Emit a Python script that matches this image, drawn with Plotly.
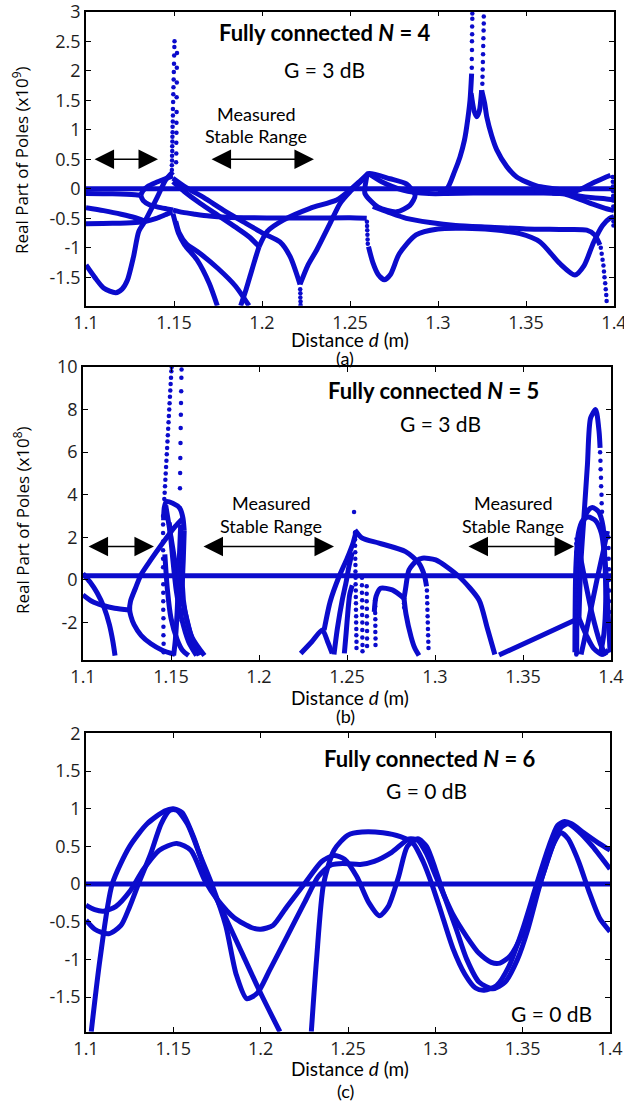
import plotly.graph_objects as go

BLUE = '#0b0bcc'
W, H = 624, 1104
XTICKS = [1.1, 1.15, 1.2, 1.25, 1.3, 1.35, 1.4]
XTICKTEXT = ['1.1', '1.15', '1.2', '1.25', '1.3', '1.35', '1.4']

# ---------------- Panel (a): N = 4, G = 3 dB (x1e9) ----------------
A_YTICKS = [3, 2.5, 2, 1.5, 1, 0.5, 0, -0.5, -1, -1.5]
A_YTICKTEXT = ['3', '2.5', '2', '1.5', '1', '0.5', '0', '-0.5', '-1', '-1.5']

A_ZERO_X = [1.10, 1.40]
A_ZERO_Y = [0.0, 0.0]
A1_X = [1.100, 1.105, 1.110, 1.1169, 1.1205, 1.1235, 1.127, 1.130, 1.1335, 1.137, 1.1405, 1.1453, 1.1494]
A1_Y = [-1.29, -1.50, -1.68, -1.76, -1.70, -1.55, -1.15, -0.72, -0.55, -0.35, -0.14, 0.15, 0.29]
A2_X = [1.100, 1.115, 1.128, 1.131]
A2_Y = [-0.08, -0.085, -0.10, -0.11]
A2U_X = [1.131, 1.1325, 1.135, 1.140, 1.145, 1.1494]
A2U_Y = [-0.11, -0.03, 0.04, 0.11, 0.17, 0.22]
A2L_X = [1.131, 1.1325, 1.136, 1.141, 1.146, 1.1494]
A2L_Y = [-0.11, -0.20, -0.27, -0.31, -0.34, -0.36]
A3_X = [1.100, 1.110, 1.120, 1.128, 1.1335]
A3_Y = [-0.32, -0.37, -0.43, -0.49, -0.55]
A4_X = [1.100, 1.115, 1.128, 1.134, 1.140, 1.145, 1.149]
A4_Y = [-0.59, -0.585, -0.57, -0.55, -0.50, -0.44, -0.39]
AB1_X = [1.1494, 1.151, 1.1525, 1.156, 1.163, 1.170, 1.1746]
AB1_Y = [-0.42, -0.60, -0.75, -0.95, -1.20, -1.60, -1.98]
AB2_X = [1.151, 1.153, 1.157, 1.165, 1.175, 1.185, 1.1926]
AB2_Y = [-0.55, -0.75, -0.93, -1.10, -1.35, -1.65, -1.98]
AB3_X = [1.1494, 1.156, 1.165, 1.175, 1.185, 1.193, 1.1983]
AB3_Y = [0.12, -0.05, -0.25, -0.45, -0.65, -0.82, -0.98]
AB6_X = [1.1494, 1.157, 1.167, 1.178, 1.190, 1.2011, 1.2102, 1.216, 1.2216]
AB6_Y = [0.18, 0.02, -0.15, -0.36, -0.57, -0.76, -0.90, -1.15, -1.62]
AB4_X = [1.1494, 1.155, 1.162, 1.170, 1.180, 1.195, 1.210, 1.230, 1.250, 1.2595]
AB4_Y = [-0.36, -0.40, -0.43, -0.46, -0.48, -0.49, -0.495, -0.495, -0.49, -0.50]
AB4B_X = [1.2605, 1.263, 1.266, 1.2695, 1.273, 1.278, 1.2875, 1.300, 1.315, 1.330, 1.3466, 1.358, 1.369, 1.3778, 1.383, 1.3885, 1.3935, 1.3975, 1.400]
AB4B_Y = [-0.98, -1.25, -1.45, -1.54, -1.45, -1.10, -0.78, -0.68, -0.67, -0.69, -0.76, -0.90, -1.26, -1.46, -1.30, -0.90, -0.62, -0.50, -0.47]
AV_X = [1.1879, 1.191, 1.194, 1.1965, 1.1983]
AV_Y = [-1.98, -1.70, -1.40, -1.15, -0.98]
AP1_X = [1.1983, 1.203, 1.2121, 1.2273, 1.2424, 1.250, 1.256, 1.2604]
AP1_Y = [-0.98, -0.72, -0.53, -0.33, -0.19, -0.02, 0.14, 0.26]
AP2_X = [1.2216, 1.226, 1.231, 1.2386, 1.2443, 1.250, 1.256, 1.2604]
AP2_Y = [-1.62, -1.30, -1.04, -0.59, -0.25, -0.05, 0.12, 0.26]
ALOOP_X = [1.2604, 1.2727, 1.2822, 1.287, 1.284, 1.2765, 1.266, 1.2585, 1.2590, 1.2604]
ALOOP_Y = [0.26, 0.17, 0.08, -0.11, -0.28, -0.39, -0.31, -0.08, 0.12, 0.26]
AZ_X = [1.2604, 1.268, 1.280, 1.295, 1.305, 1.320, 1.340, 1.360, 1.372]
AZ_Y = [0.26, 0.12, -0.02, -0.08, -0.08, -0.07, -0.07, -0.07, -0.08]
AM_X = [1.263, 1.272, 1.282, 1.2955, 1.310, 1.330, 1.350, 1.370, 1.3845, 1.389, 1.392]
AM_Y = [-0.30, -0.40, -0.50, -0.57, -0.62, -0.65, -0.68, -0.69, -0.70, -0.78, -0.95]
AS1_X = [1.300, 1.305, 1.3095, 1.3125, 1.315, 1.3163, 1.3182, 1.3191]
AS1_Y = [-0.03, 0.0, 0.30, 0.54, 0.82, 1.05, 1.50, 1.95]
AS2_X = [1.3188, 1.3205, 1.322, 1.3235, 1.3248]
AS2_Y = [1.62, 1.32, 1.22, 1.32, 1.67]
AS3_X = [1.3248, 1.3265, 1.3277, 1.3305, 1.3334, 1.339, 1.3447, 1.356, 1.372]
AS3_Y = [1.67, 1.45, 1.22, 0.90, 0.66, 0.38, 0.20, 0.05, -0.02]
AR1_X = [1.355, 1.365, 1.372, 1.380, 1.388, 1.394, 1.398]
AR1_Y = [-0.04, -0.06, -0.08, -0.02, 0.10, 0.18, 0.23]
AR2_X = [1.360, 1.372, 1.380, 1.388, 1.395, 1.400]
AR2_Y = [-0.06, -0.08, -0.12, -0.15, -0.17, -0.19]
AR3_X = [1.365, 1.372, 1.380, 1.388, 1.395, 1.400]
AR3_Y = [-0.07, -0.09, -0.17, -0.26, -0.33, -0.37]

A_SPIKE1_X = [1.1488, 1.1488, 1.1489, 1.1489, 1.149, 1.149, 1.1491, 1.1491, 1.1492, 1.1492, 1.1493, 1.1494,
              1.1494, 1.1495, 1.1496, 1.1497, 1.1498, 1.1499, 1.1500, 1.1501, 1.1502, 1.1503]
A_SPIKE1_Y = [0.32, 0.40, 0.48, 0.56, 0.64, 0.72, 0.80, 0.88, 0.96, 1.05, 1.14, 1.24,
              1.35, 1.47, 1.60, 1.72, 1.85, 1.98, 2.12, 2.26, 2.40, 2.50]
A_SPIKE2_X = [1.1512, 1.1513, 1.1513, 1.1514, 1.1514, 1.1515, 1.1515, 1.1516, 1.1516, 1.1517]
A_SPIKE2_Y = [0.45, 0.60, 0.78, 0.95, 1.12, 1.30, 1.55, 1.80, 2.05, 2.30]
A_CUSP_X = [1.2217, 1.2218, 1.2218, 1.2219, 1.2219]
A_CUSP_Y = [-1.70, -1.77, -1.84, -1.91, -1.97]
A_DROP1_X = [1.2596, 1.2597, 1.2598, 1.2599, 1.2600, 1.2601]
A_DROP1_Y = [-0.56, -0.63, -0.70, -0.78, -0.86, -0.93]
A_DROP2_X = [1.3925, 1.393, 1.3935, 1.394, 1.3943, 1.3946, 1.395, 1.3953, 1.3956, 1.3958]
A_DROP2_Y = [-1.00, -1.10, -1.20, -1.30, -1.40, -1.50, -1.60, -1.70, -1.80, -1.90]
A_PK1_X = [1.3192, 1.3192, 1.3193, 1.3193, 1.3194, 1.3194, 1.3195, 1.3195]
A_PK1_Y = [2.05, 2.20, 2.35, 2.50, 2.62, 2.75, 2.88, 2.97]
A_PK2_X = [1.3252, 1.3253, 1.3254, 1.3255, 1.3256, 1.3257, 1.3258, 1.3259, 1.3260, 1.3260]
A_PK2_Y = [1.78, 1.90, 2.02, 2.15, 2.28, 2.42, 2.55, 2.68, 2.80, 2.92]
A_EDGE_X = [1.3992, 1.3993, 1.3994, 1.3995, 1.3995, 1.3996, 1.3996, 1.3997, 1.3997]
A_EDGE_Y = [0.20, 0.12, 0.04, -0.04, -0.12, -0.20, -0.30, -0.55, -0.62]

A_CURVES = [(A_ZERO_X, A_ZERO_Y), (A1_X, A1_Y), (A2_X, A2_Y), (A2U_X, A2U_Y), (A2L_X, A2L_Y),
            (A3_X, A3_Y), (A4_X, A4_Y), (AB1_X, AB1_Y), (AB2_X, AB2_Y), (AB3_X, AB3_Y),
            (AB6_X, AB6_Y), (AB4_X, AB4_Y), (AB4B_X, AB4B_Y), (AV_X, AV_Y), (AP1_X, AP1_Y),
            (AP2_X, AP2_Y), (ALOOP_X, ALOOP_Y), (AZ_X, AZ_Y), (AM_X, AM_Y), (AS1_X, AS1_Y),
            (AS2_X, AS2_Y), (AS3_X, AS3_Y), (AR1_X, AR1_Y), (AR2_X, AR2_Y), (AR3_X, AR3_Y)]
A_DOTS = [(A_SPIKE1_X, A_SPIKE1_Y), (A_SPIKE2_X, A_SPIKE2_Y), (A_CUSP_X, A_CUSP_Y),
          (A_DROP1_X, A_DROP1_Y), (A_DROP2_X, A_DROP2_Y), (A_PK1_X, A_PK1_Y),
          (A_PK2_X, A_PK2_Y), (A_EDGE_X, A_EDGE_Y)]

# ---------------- Panel (b): N = 5, G = 3 dB (x1e8) ----------------
B_YTICKS = [10, 8, 6, 4, 2, 0, -2]
B_YTICKTEXT = ['10', '8', '6', '4', '2', '0', '-2']

B_ZERO_X = [1.10, 1.40]
B_ZERO_Y = [0.2, 0.2]
B1_X = [1.100, 1.104, 1.108, 1.112, 1.115, 1.117, 1.1182]
B1_Y = [0.30, -0.10, -0.60, -1.30, -2.10, -2.90, -3.55]
B2_X = [1.100, 1.105, 1.1114, 1.118, 1.1265]
B2_Y = [-0.70, -1.00, -1.20, -1.33, -1.41]
B3_X = [1.1568, 1.1523, 1.1450, 1.1386, 1.1330, 1.1295, 1.1270, 1.1265, 1.1272, 1.1290, 1.1330, 1.1386, 1.1450, 1.1523]
B3_Y = [2.9, 2.5, 1.7, 0.95, 0.25, -0.45, -1.0, -1.41, -1.7, -2.1, -2.6, -3.0, -3.3, -3.5]
B4_X = [1.1458, 1.1462, 1.1473, 1.151, 1.155, 1.1568, 1.1575]
B4_Y = [2.80, 3.40, 3.68, 3.60, 3.37, 2.90, 2.30]
BF1_X = [1.147, 1.150, 1.154, 1.158, 1.162, 1.166]
BF1_Y = [3.5, 2.0, 0.0, -1.5, -2.8, -3.55]
BF2_X = [1.149, 1.151, 1.153, 1.156, 1.160, 1.1645]
BF2_Y = [2.7, 1.0, -0.5, -1.8, -2.9, -3.55]
BF3_X = [1.1575, 1.157, 1.1565, 1.158, 1.162, 1.169]
BF3_Y = [2.3, 1.0, -0.3, -1.5, -2.7, -3.55]
BF4_X = [1.1555, 1.1545, 1.1535, 1.1525, 1.1515]
BF4_Y = [2.6, 0.5, -1.5, -2.8, -3.55]
BF5_X = [1.1465, 1.148, 1.150, 1.1535, 1.1565, 1.160]
BF5_Y = [1.2, -0.5, -1.8, -2.8, -3.3, -3.55]
BQ1_X = [1.2237, 1.230, 1.236, 1.239, 1.2416]
BQ1_Y = [-3.45, -2.90, -2.35, -2.90, -3.45]
BQ2_X = [1.237, 1.2405, 1.2455, 1.250, 1.2535, 1.2553]
BQ2_Y = [-2.35, -1.00, 0.16, 1.00, 1.75, 2.30]
BQ3_X = [1.2426, 1.2445, 1.2473, 1.2495, 1.2511, 1.253]
BQ3_Y = [-3.50, -2.30, -0.94, -0.10, 0.63, 1.30]
BQ4_X = [1.2485, 1.2495, 1.2505, 1.2515, 1.253]
BQ4_Y = [-3.45, -2.50, -1.50, -0.70, -0.25]
BQ5_X = [1.2655, 1.2665, 1.2691, 1.2757, 1.2824]
BQ5_Y = [-1.50, -0.78, -0.39, -0.47, -0.86]
BQ6_X = [1.2824, 1.2833, 1.2852, 1.2895, 1.2928, 1.3004, 1.3136, 1.325, 1.3295, 1.334]
BQ6_Y = [-0.86, -0.40, 0.47, 0.90, 1.02, 0.94, 0.16, -0.94, -2.20, -3.50]
BQ7_X = [1.2824, 1.2835, 1.2864, 1.2885, 1.2909]
BQ7_Y = [-0.86, -1.60, -2.67, -3.20, -3.55]
BQ8_X = [1.2545, 1.2587, 1.2682, 1.2833, 1.2909, 1.2940, 1.2952]
BQ8_Y = [2.35, 1.96, 1.73, 1.33, 0.78, 0.20, -0.30]
BR0_X = [1.3364, 1.3591, 1.3818]
BR0_Y = [-3.53, -2.67, -1.80]
BTALL_X = [1.3818, 1.3828, 1.3847, 1.3866, 1.3884, 1.3913, 1.3932, 1.3938]
BTALL_Y = [-1.80, 0.70, 3.06, 5.40, 7.60, 8.00, 6.98, 6.20]
BLA_X = [1.3805, 1.381, 1.383, 1.3865, 1.3894, 1.393, 1.3955, 1.3965, 1.397, 1.396, 1.394]
BLA_Y = [-3.5, 0.0, 2.3, 3.2, 3.4, 3.2, 2.5, 1.0, -1.0, -2.5, -3.5]
BLB_X = [1.3795, 1.380, 1.3815, 1.384, 1.3872, 1.391, 1.3945, 1.397, 1.3985, 1.3995]
BLB_Y = [-3.4, 0.5, 2.2, 2.8, 2.95, 2.8, 2.2, 0.5, -1.8, -3.4]
BX1_X = [1.3805, 1.384, 1.389, 1.394, 1.397]
BX1_Y = [2.0, 0.5, -1.5, -3.0, -3.55]
BX2_X = [1.383, 1.387, 1.392, 1.396, 1.398]
BX2_Y = [-3.5, -2.0, 0.0, 1.5, 2.3]
BX3_X = [1.3818, 1.386, 1.390, 1.395, 1.3985]
BX3_Y = [-1.8, -2.6, -3.2, -3.5, -3.3]

B_SPIKE1_X = [1.1462, 1.1464, 1.1466, 1.1468, 1.1470, 1.1472, 1.1474, 1.1476, 1.1478, 1.1480, 1.1482,
              1.1484, 1.1486, 1.1488, 1.1490, 1.1492, 1.1494, 1.1496, 1.1498, 1.1500, 1.1502, 1.1504]
B_SPIKE1_Y = [3.8, 4.1, 4.4, 4.7, 5.0, 5.3, 5.6, 5.9, 6.2, 6.5, 6.8,
              7.1, 7.4, 7.7, 8.0, 8.3, 8.6, 8.9, 9.2, 9.5, 9.8, 10.0]
B_SPIKE2_X = [1.1560, 1.1559, 1.1558, 1.1557, 1.1556, 1.1555, 1.1554, 1.1553, 1.1552, 1.1551, 1.1550, 1.1552, 1.1554]
B_SPIKE2_Y = [9.88, 9.49, 8.86, 8.31, 7.76, 7.14, 6.43, 5.73, 5.02, 4.31, 3.37, 1.33, 0.71]
B_COLL_X = [1.1455, 1.1455, 1.1455, 1.1455, 1.1455, 1.1455, 1.1455, 1.1455, 1.1456, 1.1456,
            1.1456, 1.1456, 1.1457, 1.1457, 1.1457, 1.1458, 1.1458]
B_COLL_Y = [3.0, 2.6, 2.2, 1.8, 1.4, 1.0, 0.6, 0.2, -0.2, -0.6, -1.0, -1.4, -1.8, -2.2, -2.6, -3.0, -3.4]
B_COLR_X = [1.1558, 1.1558, 1.1558, 1.1559, 1.1559, 1.1559, 1.1560, 1.1560, 1.1560]
B_COLR_Y = [1.3, 0.9, 0.5, 0.1, -0.3, -0.7, -1.1, -1.5, -1.9]
B_D1_X = [1.2545, 1.2546, 1.2546, 1.2547, 1.2547, 1.2548, 1.2548, 1.2549, 1.2549, 1.2550,
          1.2550, 1.2551, 1.2551, 1.2552, 1.2552, 1.2553, 1.2553, 1.2554, 1.2554, 1.2540]
B_D1_Y = [2.2, 1.9, 1.6, 1.3, 1.0, 0.7, 0.4, 0.1, -0.2, -0.5,
          -0.8, -1.1, -1.4, -1.7, -2.0, -2.3, -2.6, -2.9, -3.2, 3.19]
B_D2_X = [1.2585, 1.2585, 1.2585, 1.2586, 1.2586, 1.2586, 1.2587, 1.2587, 1.2587, 1.2588, 1.2588]
B_D2_Y = [0.1, -0.25, -0.6, -0.95, -1.3, -1.65, -2.0, -2.35, -2.7, -3.05, -3.35]
B_D3_X = [1.2612, 1.2612, 1.2612, 1.2613, 1.2613, 1.2613, 1.2614, 1.2614, 1.2614]
B_D3_Y = [-0.3, -0.65, -1.0, -1.35, -1.7, -2.05, -2.4, -2.75, -3.1]
B_D4_X = [1.2660, 1.2660, 1.2660, 1.2661, 1.2661, 1.2661, 1.2662, 1.2662]
B_D4_Y = [-0.95, -1.25, -1.55, -1.85, -2.15, -2.45, -2.75, -3.05]
B_D5_X = [1.2954, 1.2955, 1.2956, 1.2957, 1.2958, 1.2959, 1.2960, 1.2961, 1.2962, 1.2963]
B_D5_Y = [-0.5, -0.8, -1.1, -1.4, -1.7, -2.0, -2.3, -2.6, -2.9, -3.2]
B_D6_X = [1.2824, 1.2824, 1.2825]
B_D6_Y = [-0.90, -1.10, -1.30]
B_RCOL_X = [1.3803, 1.3803, 1.3803, 1.3803, 1.3803, 1.3803, 1.3803, 1.3803, 1.3803, 1.3803,
            1.3803, 1.3803, 1.3803, 1.3803]
B_RCOL_Y = [1.7, 1.3, 0.9, 0.5, 0.1, -0.3, -0.7, -1.1, -1.5, -1.9, -2.3, -2.7, -3.1, -3.5]
B_TALLD_X = [1.3938, 1.3940, 1.3941, 1.3943, 1.3944, 1.3946, 1.3947, 1.3949]
B_TALLD_Y = [6.0, 5.6, 5.2, 4.8, 4.4, 4.0, 3.6, 3.2]
B_EDGE_X = [1.3985, 1.3986, 1.3987, 1.3988, 1.3988, 1.3989, 1.3989, 1.3990]
B_EDGE_Y = [2.0, 1.5, 1.0, 0.5, 0.0, -0.5, -1.0, -1.5]

B_CURVES = [(B_ZERO_X, B_ZERO_Y), (B1_X, B1_Y), (B2_X, B2_Y), (B3_X, B3_Y), (B4_X, B4_Y),
            (BF1_X, BF1_Y), (BF2_X, BF2_Y), (BF3_X, BF3_Y), (BF4_X, BF4_Y), (BF5_X, BF5_Y),
            (BQ1_X, BQ1_Y), (BQ2_X, BQ2_Y), (BQ3_X, BQ3_Y), (BQ4_X, BQ4_Y), (BQ5_X, BQ5_Y),
            (BQ6_X, BQ6_Y), (BQ7_X, BQ7_Y), (BQ8_X, BQ8_Y), (BR0_X, BR0_Y), (BTALL_X, BTALL_Y),
            (BLA_X, BLA_Y), (BLB_X, BLB_Y), (BX1_X, BX1_Y), (BX2_X, BX2_Y), (BX3_X, BX3_Y)]
B_DOTS = [(B_SPIKE1_X, B_SPIKE1_Y), (B_SPIKE2_X, B_SPIKE2_Y), (B_COLL_X, B_COLL_Y),
          (B_COLR_X, B_COLR_Y), (B_D1_X, B_D1_Y), (B_D2_X, B_D2_Y), (B_D3_X, B_D3_Y),
          (B_D4_X, B_D4_Y), (B_D5_X, B_D5_Y), (B_D6_X, B_D6_Y), (B_RCOL_X, B_RCOL_Y),
          (B_TALLD_X, B_TALLD_Y), (B_EDGE_X, B_EDGE_Y)]

# ---------------- Panel (c): N = 6, G = 0 dB (x1e8) ----------------
C_YTICKS = [2, 1.5, 1, 0.5, 0, -0.5, -1, -1.5]
C_YTICKTEXT = ['2', '1.5', '1', '0.5', '0', '-0.5', '-1', '-1.5']

C_ZERO_X = [1.10, 1.40]
C_ZERO_Y = [0.0, 0.0]
C1_X = [1.103, 1.108, 1.115, 1.125, 1.135, 1.145, 1.150, 1.155, 1.162, 1.170, 1.180, 1.190, 1.200, 1.211]
C1_Y = [-1.96, -1.00, 0.00, 0.50, 0.80, 0.97, 1.00, 0.95, 0.60, 0.05, -0.45, -0.95, -1.45, -1.96]
C2_X = [1.100, 1.105, 1.113, 1.120, 1.125, 1.130, 1.137, 1.143, 1.148, 1.152, 1.158, 1.165, 1.172, 1.180,
        1.186, 1.192, 1.198, 1.205, 1.215, 1.225, 1.233, 1.240, 1.245, 1.250, 1.257, 1.265, 1.275, 1.285,
        1.290, 1.295, 1.300, 1.305, 1.310, 1.318, 1.325, 1.332, 1.337, 1.343, 1.350, 1.357, 1.362, 1.368,
        1.372, 1.376, 1.382, 1.388, 1.394, 1.400]
C2_Y = [-0.48, -0.60, -0.66, -0.55, -0.30, 0.00, 0.40, 0.80, 0.98, 0.98, 0.80, 0.40, 0.00, -0.55,
        -1.20, -1.52, -1.45, -1.15, -0.70, -0.25, 0.10, 0.25, 0.27, 0.27, 0.26, 0.30, 0.42, 0.60,
        0.58, 0.40, 0.12, -0.15, -0.40, -0.70, -0.92, -1.04, -1.05, -0.95, -0.65, -0.20, 0.15, 0.55,
        0.68, 0.60, 0.30, -0.10, -0.45, -0.63]
C3_X = [1.100, 1.105, 1.110, 1.117, 1.125, 1.133, 1.142, 1.152, 1.160, 1.168, 1.175, 1.185, 1.195,
        1.200, 1.207, 1.215, 1.225, 1.235, 1.242, 1.248, 1.255, 1.262, 1.268, 1.273, 1.279, 1.284,
        1.290, 1.295, 1.300, 1.305, 1.312, 1.318, 1.325, 1.333, 1.340, 1.347, 1.353, 1.360, 1.367,
        1.372, 1.376, 1.382, 1.390, 1.400]
C3_Y = [-0.28, -0.34, -0.36, -0.30, -0.10, 0.20, 0.45, 0.54, 0.45, 0.05, -0.20, -0.45, -0.58,
        -0.60, -0.55, -0.30, 0.00, 0.30, 0.38, 0.33, 0.10, -0.25, -0.42, -0.30, 0.10, 0.50,
        0.60, 0.50, 0.20, -0.15, -0.60, -1.00, -1.30, -1.39, -1.30, -1.00, -0.60, 0.00, 0.50,
        0.75, 0.80, 0.70, 0.50, 0.20]
C4_X = [1.229, 1.232, 1.236, 1.242, 1.250, 1.258, 1.270, 1.280, 1.287, 1.293, 1.298, 1.303, 1.310,
        1.317, 1.323, 1.328, 1.335, 1.342, 1.350, 1.358, 1.365, 1.370, 1.374, 1.378, 1.385, 1.393, 1.400]
C4_Y = [-1.96, -1.00, 0.00, 0.45, 0.65, 0.69, 0.68, 0.63, 0.55, 0.30, 0.00, -0.35, -0.85,
        -1.20, -1.38, -1.41, -1.35, -1.10, -0.60, 0.00, 0.50, 0.78, 0.83, 0.80, 0.68, 0.55, 0.45]

C_CURVES = [(C_ZERO_X, C_ZERO_Y), (C1_X, C1_Y), (C2_X, C2_Y), (C3_X, C3_Y), (C4_X, C4_Y)]

# ---------------- figure ----------------
fig = go.Figure()


def add_line(xs, ys, xa, ya, width=5):
    fig.add_trace(go.Scatter(x=xs, y=ys, mode='lines', xaxis=xa, yaxis=ya,
                             line=dict(color=BLUE, width=width, shape='spline', smoothing=0.7),
                             showlegend=False, hoverinfo='skip'))


def add_dots(xs, ys, xa, ya, size=4.5):
    fig.add_trace(go.Scatter(x=xs, y=ys, mode='markers', xaxis=xa, yaxis=ya,
                             marker=dict(color=BLUE, size=size, line=dict(width=0)),
                             showlegend=False, hoverinfo='skip'))


for xs, ys in A_CURVES:
    add_line(xs, ys, 'x', 'y')
for xs, ys in A_DOTS:
    add_dots(xs, ys, 'x', 'y')
for xs, ys in B_CURVES:
    add_line(xs, ys, 'x2', 'y2')
for xs, ys in B_DOTS:
    add_dots(xs, ys, 'x2', 'y2')
for xs, ys in C_CURVES:
    add_line(xs, ys, 'x3', 'y3')


def px(x):
    return x / W


def py(y):
    return 1 - y / H


TICKFONT = dict(family='Open Sans', size=18, color='#1e1e1e')
axis_common = dict(showgrid=False, zeroline=False, showline=True, linecolor='black', linewidth=1.5,
                   mirror='ticks', ticks='inside', ticklen=5, tickwidth=1, tickcolor='black',
                   tickfont=TICKFONT, fixedrange=True, automargin=False, ticklabeloverflow='allow')

fig.update_layout(
    width=W, height=H, margin=dict(l=0, r=0, t=0, b=0, autoexpand=False),
    paper_bgcolor='white', plot_bgcolor='white', showlegend=False,
    xaxis=dict(domain=[px(86), px(614)], range=[1.1, 1.4], anchor='y',
               tickvals=XTICKS, ticktext=XTICKTEXT, **axis_common),
    yaxis=dict(domain=[py(305.7), py(11.7)], range=[-1.98, 3.0], anchor='x',
               tickvals=A_YTICKS, ticktext=A_YTICKTEXT, **axis_common),
    xaxis2=dict(domain=[px(83), px(611)], range=[1.1, 1.4], anchor='y2',
                tickvals=XTICKS, ticktext=XTICKTEXT, **axis_common),
    yaxis2=dict(domain=[py(660), py(367)], range=[-3.76, 10.0], anchor='x2',
                tickvals=B_YTICKS, ticktext=B_YTICKTEXT, **axis_common),
    xaxis3=dict(domain=[px(86), px(610)], range=[1.1, 1.4], anchor='y3',
                tickvals=XTICKS, ticktext=XTICKTEXT, **axis_common),
    yaxis3=dict(domain=[py(1031.7), py(733.4)], range=[-1.96, 2.0], anchor='x3',
                tickvals=C_YTICKS, ticktext=C_YTICKTEXT, **axis_common),
)

LFONT = 'Lato'
ann = []


def text(x, y, s, size, family=LFONT, angle=0):
    ann.append(dict(x=px(x), y=py(y), xref='paper', yref='paper', text=s, showarrow=False,
                    xanchor='center', yanchor='middle', textangle=angle,
                    font=dict(family=family, size=size, color='black')))


# panel (a)
text(325, 33, '<b>Fully connected <i>N</i> = 4</b>', 22)
text(324, 70, 'G = 3 dB', 21)
text(256, 114, 'Measured', 18)
text(256, 136, 'Stable Range', 18)
text(350, 339, 'Distance <i>d</i> (m)', 19)
text(345, 358, '(a)', 18)
text(21, 160, 'Real Part of Poles (x10<sup>9</sup>)', 17, family='Open Sans', angle=-90)
# panel (b)
text(433, 390, '<b>Fully connected <i>N</i> = 5</b>', 22)
text(440, 423, 'G = 3 dB', 21)
text(271, 503, 'Measured', 18)
text(271, 526, 'Stable Range', 18)
text(513, 503, 'Measured', 18)
text(513, 526, 'Stable Range', 18)
text(350, 697, 'Distance <i>d</i> (m)', 19)
text(345, 716, '(b)', 18)
text(21, 520, 'Real Part of Poles (x10<sup>8</sup>)', 17, family='Open Sans', angle=-90)
# panel (c)
text(430, 758, '<b>Fully connected <i>N</i> = 6</b>', 22)
text(426, 790, 'G = 0 dB', 21)
text(551, 1013, 'G = 0 dB', 21)
text(350, 1068, 'Distance <i>d</i> (m)', 19)
text(345, 1091, '(c)', 18)


def darrow(x0, x1, y, xa, ya):
    ann.append(dict(x=x1, y=y, ax=x0, ay=y, xref=xa, yref=ya, axref=xa, ayref=ya, text='',
                    showarrow=True, arrowside='end+start', arrowhead=2, startarrowhead=2,
                    arrowsize=2.6, startarrowsize=2.6, arrowwidth=1.5, arrowcolor='black'))


darrow(1.1040, 1.1409, 0.5, 'x', 'y')
darrow(1.1705, 1.2295, 0.5, 'x', 'y')
darrow(1.1023, 1.1403, 1.57, 'x2', 'y2')
darrow(1.1676, 1.2426, 1.57, 'x2', 'y2')
darrow(1.3182, 1.3790, 1.57, 'x2', 'y2')

fig.update_layout(annotations=ann)
fig.write_html('out.html', config={'displayModeBar': False},
               post_script="document.body.style.margin='0';document.body.style.overflow='hidden';")
